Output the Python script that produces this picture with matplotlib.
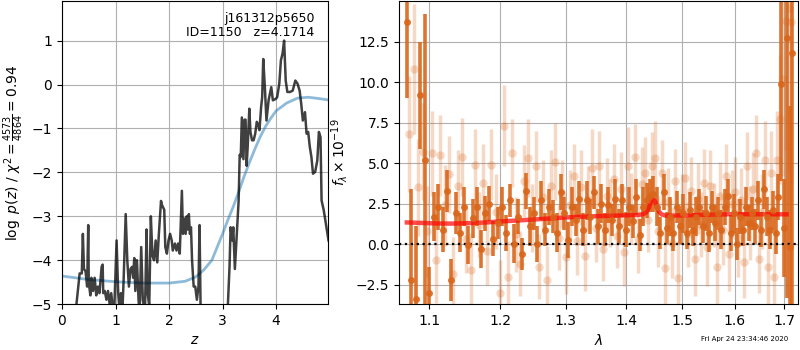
import numpy as np
import matplotlib
matplotlib.use('Agg')
import matplotlib.pyplot as plt
from matplotlib.ticker import FixedLocator, FixedFormatter, NullLocator

# p(z) panel
z_grid = [0.20, 0.27, 0.33, 0.37, 0.39, 0.41, 0.44, 0.47, 0.49, 0.50, 0.53, 0.55, 0.58, 0.61,
          0.64, 0.67, 0.70, 0.74, 0.76, 0.77, 0.80, 0.83, 0.86, 0.89, 0.92, 0.95, 0.98, 1.02,
          1.05, 1.07, 1.10, 1.13, 1.15, 1.19, 1.22, 1.25, 1.28, 1.31, 1.33, 1.35, 1.37, 1.40,
          1.43, 1.45, 1.48, 1.51, 1.55, 1.58, 1.60, 1.63, 1.66, 1.69, 1.72, 1.75, 1.78, 1.81,
          1.85, 1.87, 1.91, 1.93, 1.96, 1.99, 2.02, 2.05, 2.07, 2.11, 2.14, 2.17, 2.20, 2.24,
          2.26, 2.28, 2.31, 2.33, 2.35, 2.37, 2.39, 2.41, 2.43, 2.46, 2.49, 2.52, 2.55, 2.57,
          2.59, 2.65, 2.80, 3.00, 3.10, 3.13, 3.15, 3.18, 3.20, 3.23, 3.26, 3.30, 3.32, 3.34,
          3.36, 3.39, 3.41, 3.43, 3.45, 3.47, 3.50, 3.52, 3.55, 3.58, 3.61, 3.64, 3.67, 3.69,
          3.72, 3.74, 3.76, 3.79, 3.82, 3.86, 3.91, 3.94, 3.99, 4.02, 4.06, 4.09, 4.12, 4.15,
          4.18, 4.21, 4.26, 4.31, 4.36, 4.40, 4.44, 4.47, 4.50, 4.54, 4.57, 4.60, 4.63, 4.66,
          4.69, 4.73, 4.77, 4.80, 4.83, 4.85, 4.89, 4.94, 4.98]
log_pz = [-6.0, -5.0, -4.3, -4.3, -3.4, -4.2, -4.25, -4.6, -3.2, -4.5, -4.8, -4.4, -4.7, -4.4,
          -4.8, -4.6, -4.75, -4.15, -4.1, -4.75, -4.7, -4.9, -4.7, -5.0, -4.75, -5.1, -5.0, -3.55,
          -4.75, -5.05, -4.75, -5.1, -4.5, -2.95, -4.0, -4.6, -4.2, -4.15, -4.4, -3.95, -4.7, -4.0,
          -4.9, -5.2, -3.7, -4.9, -5.2, -3.3, -4.75, -5.05, -3.0, -3.9, -4.0, -3.55, -4.05, -3.4,
          -2.65, -2.75, -2.85, -3.7, -3.85, -3.55, -3.4, -3.55, -3.78, -3.62, -3.78, -3.62, -3.85, -2.42,
          -3.4, -3.05, -3.4, -3.0, -3.3, -2.95, -3.4, -3.25, -4.0, -4.6, -4.6, -4.9, -4.6, -3.2,
          -5.15, -6.5, -7.0, -6.5, -5.0, -4.15, -3.25, -3.55, -3.25, -4.2, -3.55, -2.65, -1.6, -1.65,
          -0.75, -1.7, -0.8, -0.8, -1.85, -1.4, -0.55, -1.07, -1.27, -1.27, -1.12, -0.85, -0.93, -1.04,
          -0.52, -0.29, 0.58, -0.06, -0.82, -0.36, -0.06, -0.36, -0.33, -0.29, 0.02, 0.55, 0.7, 1.0,
          0.09, -0.17, -0.17, -0.14, 0.09, 0.02, -0.14, -0.44, -0.82, -0.63, -1.12, -1.08, -1.42, -1.65,
          -2.03, -1.99, -1.73, -1.08, -1.2, -2.64, -2.86, -3.24, -3.55]

z_chi2 = [0.0, 0.5, 1.0, 1.5, 2.0, 2.3, 2.5, 2.65, 2.8, 2.9, 3.0, 3.1, 3.2, 3.3, 3.4,
          3.5, 3.6, 3.7, 3.8, 3.9, 4.0, 4.2, 4.4, 4.6, 4.8, 4.97]
logp_chi2 = [-4.36, -4.44, -4.49, -4.52, -4.52, -4.48, -4.38, -4.22, -4.0, -3.7, -3.4, -3.08,
             -2.78, -2.45, -2.1, -1.78, -1.48, -1.2, -0.96, -0.77, -0.6, -0.42, -0.31, -0.29,
             -0.32, -0.35]

# spectrum panel
wave_dark = [1.070, 1.076, 1.082, 1.088, 1.094, 1.100, 1.106, 1.112, 1.118, 1.124,
             1.130, 1.136, 1.142, 1.148, 1.154, 1.160, 1.166, 1.172, 1.178, 1.184,
             1.190, 1.196, 1.202, 1.208, 1.214, 1.220, 1.226, 1.232, 1.238, 1.244,
             1.250, 1.256, 1.262, 1.268, 1.274, 1.280, 1.286, 1.292, 1.298, 1.304,
             1.310, 1.316, 1.322, 1.328, 1.334, 1.340, 1.346, 1.352, 1.358, 1.364,
             1.370, 1.376, 1.382, 1.388, 1.394, 1.400, 1.406, 1.412, 1.418, 1.424,
             1.430, 1.436, 1.442, 1.448, 1.454, 1.460, 1.466, 1.472, 1.478, 1.484,
             1.490, 1.496, 1.502, 1.508, 1.514, 1.520, 1.526, 1.532, 1.538, 1.544,
             1.550, 1.556, 1.562, 1.568, 1.574, 1.580, 1.586, 1.592, 1.598, 1.604,
             1.610, 1.616, 1.622, 1.628, 1.634, 1.640, 1.646, 1.652, 1.658, 1.664,
             1.670, 1.676, 1.682, 1.688, 1.694, 1.700, 1.706, 1.712, 1.716]
flux_dark = [13.7, -2.2, -3.4, 9.2, 5.2, -3.0, 1.7, 2.3, 0.9, 3.3,
             -2.2, 1.9, 0.7, 2.3, -0.05, 1.6, 2.3, -0.3, 1.9, 2.5,
             0.35, 1.3, 2.3, 0.7, 2.7, 0.04, 1.7, -0.6, 3.3, 1.1,
             1.9, 0.0, 2.7, 0.9, 2.3, 1.7, 0.7, 3.2, 1.9, 0.25,
             2.3, 1.5, 2.8, 0.9, 2.7, 1.7, 3.2, 1.1, 2.5, 0.9,
             2.4, 1.5, 2.8, 1.1, 2.7, 0.9, 2.3, 1.4, 2.9, 0.55,
             2.3, 2.7, 3.0, 3.1, 2.3, 0.7, 3.2, 1.0, 1.7, 0.7,
             2.3, 1.1, 1.9, 0.7, 2.1, 0.9, 1.7, 2.3, 1.1, 1.9,
             0.7, 2.3, 1.3, 1.9, 0.9, 2.3, 3.0, 0.7, 1.9, 0.0,
             1.7, 0.9, 2.3, 1.3, 1.9, 1.1, 2.7, 0.9, 3.4, 1.7,
             0.9, 2.1, 0.7, 2.9, 9.9, 1.0, 12.7, -0.2, 11.8]
err_dark = [4.7, 5.6, 4.5, 3.3, 9.0, 1.6, 1.5, 1.4, 1.4, 1.3,
            1.3, 1.3, 1.2, 1.2, 1.2, 1.2, 1.2, 1.2, 1.1, 1.1,
            1.1, 1.0, 1.2, 1.1, 1.0, 1.2, 1.1, 1.0, 1.1, 1.2,
            1.0, 1.1, 1.2, 1.0, 1.1, 1.0, 1.2, 1.1, 1.0, 1.1,
            1.2, 1.0, 1.1, 1.0, 1.2, 1.1, 1.0, 1.1, 1.2, 1.0,
            1.1, 1.0, 1.2, 1.1, 1.0, 1.1, 1.2, 1.0, 1.1, 1.0,
            1.2, 1.1, 1.0, 1.1, 1.2, 1.0, 1.1, 1.0, 1.2, 1.1,
            1.0, 1.1, 1.2, 1.0, 1.1, 1.0, 1.2, 1.1, 1.0, 1.1,
            1.2, 1.0, 1.1, 1.0, 1.2, 1.1, 1.0, 1.1, 1.2, 1.0,
            1.1, 1.0, 1.2, 1.1, 1.0, 1.1, 1.2, 1.1, 1.2, 1.2,
            1.2, 1.2, 1.3, 1.4, 6.0, 3.0, 16.0, 8.7, 16.0]

wave_light = [1.073, 1.079, 1.085, 1.091, 1.097, 1.103, 1.109, 1.115, 1.121, 1.127,
              1.133, 1.139, 1.145, 1.151, 1.157, 1.163, 1.169, 1.175, 1.181, 1.187,
              1.193, 1.199, 1.205, 1.211, 1.217, 1.223, 1.229, 1.235, 1.241, 1.247,
              1.253, 1.259, 1.265, 1.271, 1.277, 1.283, 1.289, 1.295, 1.301, 1.307,
              1.313, 1.319, 1.325, 1.331, 1.337, 1.343, 1.349, 1.355, 1.361, 1.367,
              1.373, 1.379, 1.385, 1.391, 1.397, 1.403, 1.409, 1.415, 1.421, 1.427,
              1.433, 1.439, 1.445, 1.451, 1.457, 1.463, 1.469, 1.475, 1.481, 1.487,
              1.493, 1.499, 1.505, 1.511, 1.517, 1.523, 1.529, 1.535, 1.541, 1.547,
              1.553, 1.559, 1.565, 1.571, 1.577, 1.583, 1.589, 1.595, 1.601, 1.607,
              1.613, 1.619, 1.625, 1.631, 1.637, 1.643, 1.649, 1.655, 1.661, 1.667,
              1.673, 1.679, 1.685, 1.691, 1.697, 1.703, 1.709, 1.715]
flux_light = [6.8, 10.8, 3.5, 5.7, 0.8, 5.6, -1.0, 5.5, 2.4, 4.3,
              -1.85, 3.6, 5.4, 0.3, -1.6, 4.9, 1.2, 3.8, -0.4, 4.9,
              2.0, -3.0, 7.3, -2.0, 5.6, 0.6, -1.2, 3.9, 5.3, 1.6,
              4.8, -1.4, 2.9, -2.2, 3.6, 5.1, 0.4, 3.1, -0.8, 2.4,
              4.2, 0.2, 3.5, -0.7, 2.8, 4.7, 1.0, 4.8, -0.3, 3.0,
              1.9, 4.0, 0.5, 3.4, -0.5, 4.8, 2.2, 5.4, 0.3, 3.7,
              4.4, 1.5, 4.8, 5.3, 0.8, 4.4, -1.5, 2.6, 0.1, 3.9,
              -2.1, 2.2, 4.1, 0.6, 3.3, -0.9, 2.8, 1.2, 3.8, -0.2,
              3.6, 1.8, -1.4, 3.0, 0.9, 4.2, -0.6, 2.5, 3.2, 0.4,
              2.7, -1.1, 4.8, 1.3, 3.4, 5.6, -0.9, 2.0, 5.2, -1.4,
              4.4, -2.0, 5.2, 7.7, 10.2, 13.8, 14.6, 13.7]
err_light = [3.6, 4.0, 3.0, 3.0, 2.8, 2.6, 2.6, 2.5, 2.5, 2.4,
             2.3, 2.2, 2.4, 2.1, 2.3, 2.2, 2.0, 2.4, 2.1, 2.2,
             2.3, 2.0, 2.5, 2.2, 2.1, 2.3, 2.0, 2.2, 2.4, 2.1,
             2.2, 2.0, 2.3, 2.1, 2.2, 2.4, 2.0, 2.1, 2.3, 2.2,
             2.0, 2.1, 2.3, 2.2, 2.0, 2.4, 2.1, 2.2, 2.0, 2.3,
             2.1, 2.2, 2.0, 2.3, 2.1, 2.4, 2.2, 2.0, 2.1, 2.3,
             2.2, 2.0, 2.1, 2.3, 2.2, 2.0, 2.4, 2.1, 2.2, 2.0,
             2.3, 2.1, 2.2, 2.0, 2.1, 2.3, 2.2, 2.0, 2.1, 2.4,
             2.2, 2.0, 2.3, 2.1, 2.2, 2.0, 2.3, 2.1, 2.2, 2.4,
             2.0, 2.2, 2.1, 2.3, 2.2, 2.4, 2.1, 2.3, 2.4, 2.5,
             2.6, 2.8, 3.0, 4.0, 6.0, 8.0, 10.0, 10.0]

wave_model = [1.070, 1.090, 1.110, 1.130, 1.150, 1.175, 1.200, 1.250, 1.300, 1.350,
              1.400, 1.420, 1.430, 1.435, 1.440, 1.444, 1.447, 1.450, 1.454, 1.458,
              1.463, 1.470, 1.480, 1.500, 1.550, 1.600, 1.650, 1.705]
flux_model = [1.34, 1.31, 1.28, 1.27, 1.29, 1.33, 1.40, 1.52, 1.65, 1.73,
              1.78, 1.80, 1.85, 1.95, 2.25, 2.65, 2.80, 2.70, 2.35, 2.00,
              1.83, 1.76, 1.76, 1.78, 1.82, 1.85, 1.85, 1.84]

wave_ticks = [1.1, 1.2, 1.3, 1.4, 1.5, 1.6, 1.7]
wave_labels = ['1.1', '1.2', '1.3', '1.4', '1.5', '1.6', '1.7']

fig = plt.figure(figsize=(8, 3.5), dpi=100)
ax1 = fig.add_axes([0.0775, 0.131, 0.3325, 0.866])
ax2 = fig.add_axes([0.499, 0.131, 0.4985, 0.866])

# 左图
ax1.plot(z_chi2, logp_chi2, color='tab:blue', alpha=0.5, lw=2)
ax1.plot(z_grid, log_pz, color='k', alpha=0.75, lw=1.8)
ax1.set_xlim(0, 4.97)
ax1.set_ylim(-5, 1.9)
ax1.set_xlabel('$z$')
ax1.set_ylabel(r'$\log\ p(z)$ / $\chi^2=\frac{4573}{4864}=0.94$')
ax1.grid(True)
ax1.text(0.95, 0.965, 'j161312p5650\nID=1150   z=4.1714', ha='right', va='top',
         fontsize=9, transform=ax1.transAxes, linespacing=1.1)

# 右图
orange = '#d9661a'
ax2.errorbar(wave_light, flux_light, yerr=err_light, fmt='o', color=orange, alpha=0.25,
             ms=6, elinewidth=2.5, mew=0)
ax2.errorbar(wave_dark, flux_dark, yerr=err_dark, fmt='o', color=orange, alpha=0.9,
             ms=5, elinewidth=2.6, mew=0)
ax2.plot(wave_model, flux_model, color='r', alpha=0.7, lw=3.2)
ax2.axhline(0, color='k', ls=':', lw=1.6)
ax2.set_xscale('log')
ax2.xaxis.set_major_locator(FixedLocator(wave_ticks))
ax2.xaxis.set_major_formatter(FixedFormatter(wave_labels))
ax2.xaxis.set_minor_locator(NullLocator())
ax2.set_xlim(1.06, 1.729)
ax2.set_ylim(-3.7, 15.0)
ax2.set_yticks([-2.5, 0.0, 2.5, 5.0, 7.5, 10.0, 12.5])
ax2.set_xlabel(r'$\lambda$')
ax2.set_ylabel(r'$f_\lambda\times10^{-19}$')
ax2.grid(True)

fig.text(0.985, 0.031, 'Fri Apr 24 23:34:46 2020', ha='right', va='center', fontsize=5)

fig.savefig('out.png', dpi=100)
